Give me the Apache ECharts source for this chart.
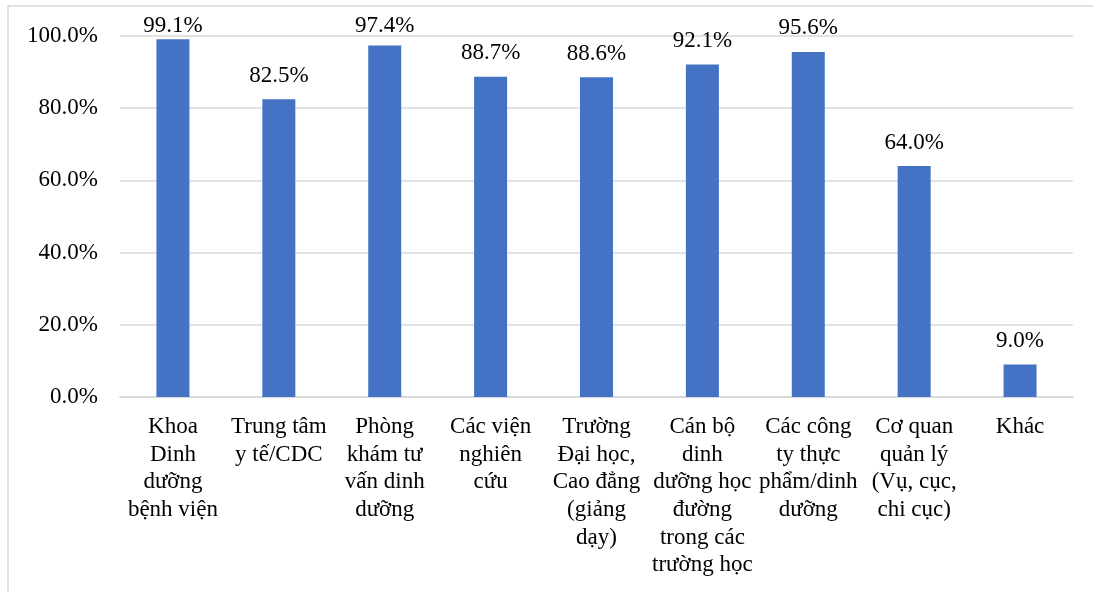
<!DOCTYPE html>
<html>
<head>
<meta charset="utf-8">
<script src="https://cdn.jsdelivr.net/npm/echarts@6/dist/echarts.min.js"></script>
<style>
  html, body { margin: 0; padding: 0; background: #ffffff; }
  #chart { width: 1093px; height: 592px; }
</style>
</head>
<body>
<div id="chart"></div>
<script>
// Workplace categories (line breaks as wrapped under each bar)
const categories = [
  'Khoa\nDinh\ndưỡng\nbệnh viện',
  'Trung tâm\ny tế/CDC',
  'Phòng\nkhám tư\nvấn dinh\ndưỡng',
  'Các viện\nnghiên\ncứu',
  'Trường\nĐại học,\nCao đẳng\n(giảng\ndạy)',
  'Cán bộ\ndinh\ndưỡng học\nđường\ntrong các\ntrường học',
  'Các công\nty thực\nphẩm/dinh\ndưỡng',
  'Cơ quan\nquản lý\n(Vụ, cục,\nchi cục)',
  'Khác'
];
// Percentages per category
const percentValues = [99.1, 82.5, 97.4, 88.7, 88.6, 92.1, 95.6, 64.0, 9.0];
// Value axis ticks
const yTicks = [0, 20, 40, 60, 80, 100];

const FONT = '"Liberation Serif", "Times New Roman", serif';
// Value labels never rise above this line, so they stay inside the chart frame
const LABEL_TOP_LIMIT = 14;

const chart = echarts.init(document.getElementById('chart'), null, { renderer: 'canvas' });
chart.setOption({
  animation: false,
  backgroundColor: '#ffffff',
  graphic: [{
    type: 'rect',
    shape: { x: 8, y: 6, width: 1100, height: 600 },
    style: { fill: 'none', stroke: '#d9d9d9', lineWidth: 1.5 },
    silent: true
  }],
  grid: { left: 120, right: 20, top: 36, bottom: 195, containLabel: false },
  xAxis: {
    type: 'category',
    data: categories,
    axisLine: { show: true, lineStyle: { color: '#d9d9d9', width: 2 } },
    axisTick: { show: false },
    axisLabel: {
      interval: 0,
      margin: 16,
      color: '#000000',
      fontFamily: FONT,
      fontSize: 23,
      lineHeight: 27.7
    }
  },
  yAxis: {
    type: 'value',
    min: yTicks[0],
    max: yTicks[yTicks.length - 1],
    interval: yTicks[1] - yTicks[0],
    axisLine: { show: false },
    axisTick: { show: false },
    splitLine: { lineStyle: { color: '#d9d9d9', width: 1.5 } },
    axisLabel: {
      margin: 22,
      color: '#000000',
      fontFamily: FONT,
      fontSize: 23,
      formatter: v => v.toFixed(1) + '%'
    }
  },
  series: [{
    type: 'bar',
    data: percentValues,
    barWidth: 33,
    itemStyle: { color: '#4472C4' },
    label: {
      show: true,
      position: 'top',
      distance: 12,
      color: '#000000',
      fontFamily: FONT,
      fontSize: 23,
      formatter: p => p.value.toFixed(1) + '%'
    },
    labelLayout: function (params) {
      const r = params.labelRect;
      return {
        x: r.x + r.width / 2,
        y: Math.max(r.y, LABEL_TOP_LIMIT),
        align: 'center',
        verticalAlign: 'top'
      };
    }
  }]
});
</script>
</body>
</html>
